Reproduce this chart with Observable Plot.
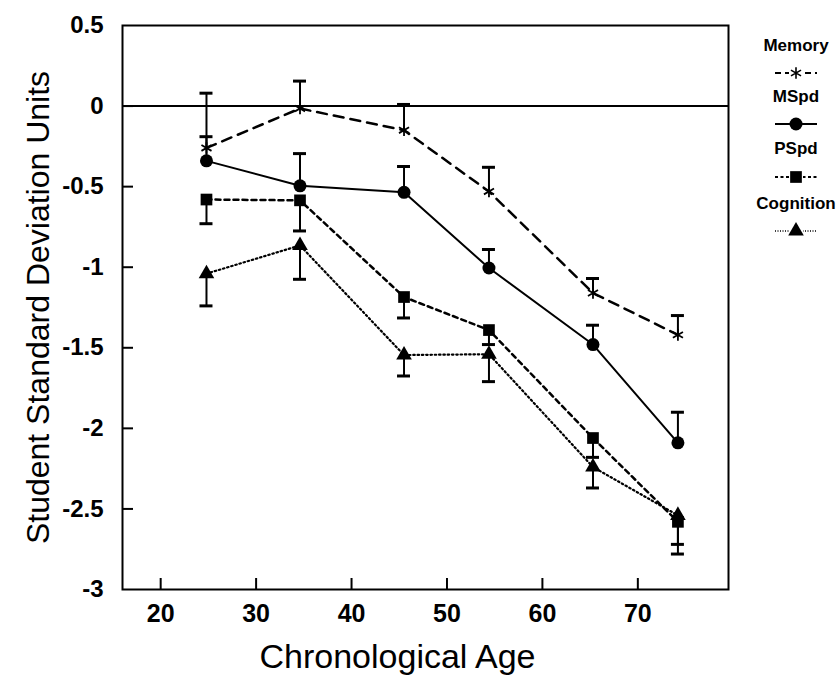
<!DOCTYPE html>
<html><head><meta charset="utf-8">
<script src="https://cdn.jsdelivr.net/npm/d3@7"></script>
<script src="https://cdn.jsdelivr.net/npm/@observablehq/plot@0.6"></script>
<style>
body{margin:0;background:#fff;}
#wrap{position:relative;width:840px;height:677px;font-family:"Liberation Sans",Arial,sans-serif;}
#wrap svg{position:absolute;left:0;top:0;}
</style></head><body><div id="wrap"></div>
<script>
// ---- data ----
const ages = [24.8, 34.6, 45.5, 54.4, 65.3, 74.2];
const memory = [-0.26, -0.015, -0.15, -0.53, -1.16, -1.42];
const memoryErr = [0.08, 0.155, 0.01, -0.38, -1.07, -1.30];      // upper end of bar
const mspd = [-0.34, -0.495, -0.535, -1.005, -1.48, -2.09];
const mspdErr = [-0.19, -0.295, -0.375, -0.89, -1.36, -1.9];     // upper end of bar
const pspd = [-0.58, -0.585, -1.185, -1.39, -2.06, -2.58];
const pspdErr = [-0.73, -0.775, -1.315, -1.48, -2.18, -2.78];    // lower end of bar
const cognition = [-1.04, -0.865, -1.545, -1.54, -2.24, -2.54];
const cognitionErr = [-1.24, -1.075, -1.675, -1.71, -2.37, -2.72]; // lower end of bar
const xTicks = [20, 30, 40, 50, 60, 70];
const yTicks = [0.5, 0, -0.5, -1, -1.5, -2, -2.5, -3];
const seriesNames = ["Memory", "MSpd", "PSpd", "Cognition"];

const seriesVals = {Memory: memory, MSpd: mspd, PSpd: pspd, Cognition: cognition};
const seriesErr = {Memory: memoryErr, MSpd: mspdErr, PSpd: pspdErr, Cognition: cognitionErr};
const styles = {
  Memory: {dash: "10,7", width: 2.5, symbol: "asterisk", r: 5.5, fill: "none", stroke: "black"},
  MSpd: {dash: null, width: 2, symbol: "circle", r: 6.5, fill: "black", stroke: "none"},
  PSpd: {dash: "5,4", width: 2.5, symbol: "square", r: 6.6, fill: "black", stroke: "none"},
  Cognition: {dash: "1.5,2.8", width: 2.2, symbol: "triangle", r: 5.8, fill: "black", stroke: "none"}
};

const rows = [];
for (const s of seriesNames) ages.forEach((a, i) => rows.push({series: s, age: a, value: seriesVals[s][i], end: seriesErr[s][i]}));

const W = 840, H = 677, mL = 122, mR = 112, mT = 25, mB = 88;
const xDom = [16, 79.5], yDom = [-3, 0.5];
const pxPerX = (W - mL - mR) / (xDom[1] - xDom[0]);
const pxPerY = (H - mT - mB) / (yDom[1] - yDom[0]);
const capHalf = 6.5 / pxPerX;
const font = '"Liberation Sans", Arial, Helvetica, sans-serif';

const marks = [
  Plot.ruleY([0], {stroke: "black", strokeWidth: 2}),
  Plot.ruleX(xTicks, {y1: yDom[0], y2: yDom[0] + 11 / pxPerY, stroke: "black", strokeWidth: 2}),
  Plot.ruleY(yTicks.slice(1, -1), {x1: xDom[0], x2: xDom[0] + 11 / pxPerX, stroke: "black", strokeWidth: 2}),
  Plot.axisX({ticks: xTicks, tickSize: 0, tickPadding: 15, fontSize: 25, fontWeight: "bold", label: null, tickFormat: d => String(d)}),
  Plot.axisY({ticks: yTicks, tickSize: 0, tickPadding: 19, fontSize: 24, fontWeight: "bold", label: null, tickFormat: d => String(d)}),
  Plot.text(["Chronological Age"], {frameAnchor: "bottom", lineAnchor: "middle", dy: 68, dx: -28, fontSize: 34, fill: "black"}),
  Plot.text(["Student Standard Deviation Units"], {frameAnchor: "left", textAnchor: "middle", lineAnchor: "middle", rotate: -90, dx: -84, fontSize: 32, fill: "black"})
];
for (const s of seriesNames) {
  const st = styles[s];
  const d = rows.filter(r => r.series === s);
  marks.push(Plot.line(d, {x: "age", y: "value", stroke: "black", strokeWidth: st.width, strokeDasharray: st.dash}));
  marks.push(Plot.ruleX(d, {x: "age", y1: "value", y2: "end", stroke: "black", strokeWidth: 2}));
  marks.push(Plot.ruleY(d, {y: "end", x1: r => r.age - capHalf, x2: r => r.age + capHalf, stroke: "black", strokeWidth: 3}));
}
for (const s of seriesNames) {
  const st = styles[s];
  const d = rows.filter(r => r.series === s);
  marks.push(Plot.dot(d, {x: "age", y: "value", symbol: st.symbol, r: st.r, fill: st.fill, stroke: st.stroke === "none" ? null : st.stroke, strokeWidth: 1.8}));
}
marks.push(Plot.frame({stroke: "black", strokeWidth: 2}));

const chart = Plot.plot({
  width: W, height: H, marginLeft: mL, marginRight: mR, marginTop: mT, marginBottom: mB,
  style: {fontFamily: font, background: "white", color: "black"},
  x: {domain: xDom, axis: null}, y: {domain: yDom, axis: null},
  marks
});
document.getElementById("wrap").appendChild(chart);

// ---- legend (right side) ----
const leg = d3.select("#wrap").append("svg").attr("width", W).attr("height", H).style("pointer-events", "none");
const lx = 796;
const legPos = [{t: 45, s: 73}, {t: 96, s: 124}, {t: 148, s: 177}, {t: 203, s: 231}];
seriesNames.forEach((s, i) => {
  const st = styles[s];
  const p = legPos[i];
  leg.append("text").attr("x", lx).attr("y", p.t).attr("dy", "0.35em").attr("text-anchor", "middle")
    .attr("font-family", font).attr("font-size", 17).attr("font-weight", "bold").text(s);
  leg.append("line").attr("x1", lx - 21).attr("x2", lx + 21).attr("y1", p.s).attr("y2", p.s)
    .attr("stroke", "black").attr("stroke-width", s === "Cognition" ? 1.5 : 1.8)
    .attr("stroke-dasharray", s === "Memory" ? "6,4" : s === "PSpd" ? "3,2.5" : s === "Cognition" ? "1,1.5" : null);
  const sym = {asterisk: d3.symbolAsterisk, circle: d3.symbolCircle, square: d3.symbolSquare, triangle: d3.symbolTriangle}[st.symbol];
  leg.append("rect").attr("x", lx - 7).attr("y", p.s - 7).attr("width", 14).attr("height", 14).attr("fill", s === "MSpd" ? "none" : "white");
  leg.append("path").attr("transform", `translate(${lx},${p.s})`)
    .attr("d", d3.symbol(sym, Math.PI * st.r * st.r)())
    .attr("fill", st.fill).attr("stroke", st.stroke === "none" ? null : st.stroke).attr("stroke-width", 1.6);
});
</script></body></html>
